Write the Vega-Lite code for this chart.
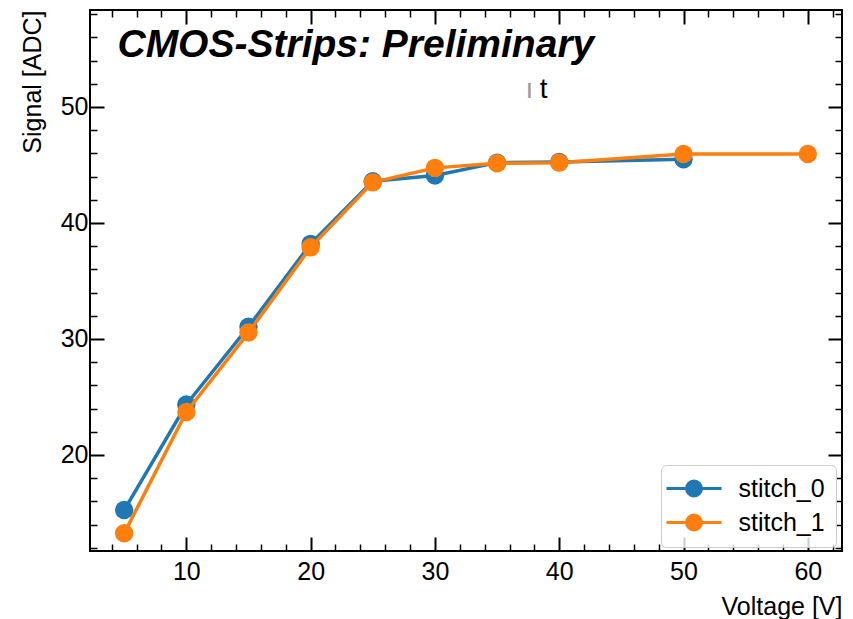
{
  "$schema": "https://vega.github.io/schema/vega-lite/v6.json",
  "width": 752,
  "height": 541,
  "autosize": "none",
  "padding": {"left": 90, "top": 10, "right": 11, "bottom": 68},
  "background": "white",
  "config": {
    "font": "Liberation Sans",
    "view": {"stroke": "black", "strokeWidth": 2},
    "axis": {
      "domain": false,
      "grid": false,
      "ticks": true,
      "labelFont": "Liberation Sans",
      "labelFontSize": 25,
      "labelColor": "black",
      "titleFont": "Liberation Sans",
      "titleFontSize": 25,
      "titleFontWeight": "normal",
      "titleColor": "black",
      "tickColor": "black",
      "tickSize": {"condition": {"test": "datum.value % 10 === 0", "value": -14}, "value": -7},
      "tickWidth": {"condition": {"test": "datum.value % 10 === 0", "value": 2}, "value": 1.5}
    },
    "legend": {
      "title": null,
      "orient": "none",
      "legendX": 571,
      "legendY": 455,
      "padding": 11,
      "fillColor": "rgba(255,255,255,0.8)",
      "strokeColor": "#cccccc",
      "cornerRadius": 5,
      "symbolType": "M-3.06,0L3.06,0M0.83,0A0.83,0.83,0,1,1,-0.83,0A0.83,0.83,0,1,1,0.83,0Z",
      "symbolSize": 324,
      "symbolStrokeWidth": 3,
      "symbolOffset": 9.5,
      "labelOffset": 32,
      "labelFont": "Liberation Sans",
      "labelFontSize": 25,
      "labelColor": "black",
      "rowPadding": 7
    }
  },
  "datasets": {
    "series": [
      {"voltage": 5, "signal": 15.25, "stitch": "stitch_0"},
      {"voltage": 10, "signal": 24.35, "stitch": "stitch_0"},
      {"voltage": 15, "signal": 31.05, "stitch": "stitch_0"},
      {"voltage": 20, "signal": 38.2, "stitch": "stitch_0"},
      {"voltage": 25, "signal": 43.6, "stitch": "stitch_0"},
      {"voltage": 30, "signal": 44.1, "stitch": "stitch_0"},
      {"voltage": 35, "signal": 45.2, "stitch": "stitch_0"},
      {"voltage": 40, "signal": 45.25, "stitch": "stitch_0"},
      {"voltage": 50, "signal": 45.5, "stitch": "stitch_0"},
      {"voltage": 5, "signal": 13.25, "stitch": "stitch_1"},
      {"voltage": 10, "signal": 23.7, "stitch": "stitch_1"},
      {"voltage": 15, "signal": 30.55, "stitch": "stitch_1"},
      {"voltage": 20, "signal": 37.9, "stitch": "stitch_1"},
      {"voltage": 25, "signal": 43.5, "stitch": "stitch_1"},
      {"voltage": 30, "signal": 44.75, "stitch": "stitch_1"},
      {"voltage": 35, "signal": 45.15, "stitch": "stitch_1"},
      {"voltage": 40, "signal": 45.2, "stitch": "stitch_1"},
      {"voltage": 50, "signal": 45.95, "stitch": "stitch_1"},
      {"voltage": 60, "signal": 45.95, "stitch": "stitch_1"}
    ]
  },
  "resolve": {"axis": {"x": "independent", "y": "independent"}},
  "layer": [
    {
      "data": {"name": "series"},
      "transform": [{"filter": "datum.stitch === 'stitch_0'"}],
      "mark": {"type": "line", "strokeWidth": 3.5},
      "encoding": {
        "x": {
          "field": "voltage", "type": "quantitative",
          "scale": {"domain": [2.25, 62.75], "nice": false, "zero": false},
          "axis": {
            "orient": "bottom",
            "title": "Voltage [V]",
            "titleAnchor": "end",
            "titlePadding": 10,
            "values": [4, 6, 8, 10, 12, 14, 16, 18, 20, 22, 24, 26, 28, 30, 32, 34, 36, 38, 40, 42, 44, 46, 48, 50, 52, 54, 56, 58, 60, 62],
            "labelExpr": "datum.value % 10 === 0 ? datum.label : ''",
            "labelPadding": 22
          }
        },
        "y": {
          "field": "signal", "type": "quantitative",
          "scale": {"domain": [11.72, 58.36], "nice": false, "zero": false},
          "axis": {
            "orient": "left",
            "title": "Signal [ADC]",
            "titleAnchor": "end",
            "titlePadding": 15,
            "values": [12, 14, 16, 18, 20, 22, 24, 26, 28, 30, 32, 34, 36, 38, 40, 42, 44, 46, 48, 50, 52, 54, 56, 58],
            "labelExpr": "datum.value % 10 === 0 ? datum.label : ''",
            "labelPadding": 16
          }
        },
        "color": {
          "field": "stitch", "type": "nominal",
          "scale": {"domain": ["stitch_0", "stitch_1"], "range": ["#1f77b4", "#ff7f0e"]}
        }
      }
    },
    {
      "data": {"name": "series"},
      "transform": [{"filter": "datum.stitch === 'stitch_0'"}],
      "mark": {"type": "point", "filled": true, "opacity": 1, "size": 340, "shape": "circle"},
      "encoding": {
        "x": {"field": "voltage", "type": "quantitative", "scale": {"domain": [2.25, 62.75], "nice": false, "zero": false}, "axis": null},
        "y": {"field": "signal", "type": "quantitative", "scale": {"domain": [11.72, 58.36], "nice": false, "zero": false}, "axis": null},
        "color": {"field": "stitch", "type": "nominal", "scale": {"domain": ["stitch_0", "stitch_1"], "range": ["#1f77b4", "#ff7f0e"]}}
      }
    },
    {
      "data": {"name": "series"},
      "transform": [{"filter": "datum.stitch === 'stitch_1'"}],
      "mark": {"type": "line", "strokeWidth": 3.5},
      "encoding": {
        "x": {
          "field": "voltage", "type": "quantitative",
          "scale": {"domain": [2.25, 62.75], "nice": false, "zero": false},
          "axis": {
            "orient": "top",
            "title": null,
            "labels": false,
            "values": [4, 6, 8, 10, 12, 14, 16, 18, 20, 22, 24, 26, 28, 30, 32, 34, 36, 38, 40, 42, 44, 46, 48, 50, 52, 54, 56, 58, 60, 62]
          }
        },
        "y": {
          "field": "signal", "type": "quantitative",
          "scale": {"domain": [11.72, 58.36], "nice": false, "zero": false},
          "axis": {
            "orient": "right",
            "title": null,
            "labels": false,
            "values": [12, 14, 16, 18, 20, 22, 24, 26, 28, 30, 32, 34, 36, 38, 40, 42, 44, 46, 48, 50, 52, 54, 56, 58]
          }
        },
        "color": {"field": "stitch", "type": "nominal", "scale": {"domain": ["stitch_0", "stitch_1"], "range": ["#1f77b4", "#ff7f0e"]}}
      }
    },
    {
      "data": {"name": "series"},
      "transform": [{"filter": "datum.stitch === 'stitch_1'"}],
      "mark": {"type": "point", "filled": true, "opacity": 1, "size": 340, "shape": "circle"},
      "encoding": {
        "x": {"field": "voltage", "type": "quantitative", "scale": {"domain": [2.25, 62.75], "nice": false, "zero": false}, "axis": null},
        "y": {"field": "signal", "type": "quantitative", "scale": {"domain": [11.72, 58.36], "nice": false, "zero": false}, "axis": null},
        "color": {
          "field": "stitch", "type": "nominal",
          "scale": {"domain": ["stitch_0", "stitch_1"], "range": ["#1f77b4", "#ff7f0e"]},
          "legend": {
            "encode": {
              "symbols": {
                "update": {
                  "fill": {"scale": "color", "field": "value"},
                  "stroke": {"scale": "color", "field": "value"},
                  "strokeWidth": {"value": 3},
                  "opacity": {"value": 1}
                }
              }
            }
          }
        }
      }
    },
    {
      "data": {"values": [{"voltage": 4.46, "signal": 54.31, "label": "CMOS-Strips: Preliminary"}]},
      "mark": {"type": "text", "align": "left", "baseline": "alphabetic", "font": "Liberation Sans", "fontSize": 39, "fontWeight": "bold", "fontStyle": "italic", "color": "black"},
      "encoding": {
        "x": {"field": "voltage", "type": "quantitative", "scale": {"domain": [2.25, 62.75], "nice": false, "zero": false}, "axis": null},
        "y": {"field": "signal", "type": "quantitative", "scale": {"domain": [11.72, 58.36], "nice": false, "zero": false}, "axis": null},
        "text": {"field": "label"}
      }
    },
    {
      "data": {"values": [{"voltage": 37.6, "signal": 50.78, "label": "ı"}]},
      "mark": {"type": "text", "align": "center", "baseline": "alphabetic", "font": "Liberation Sans", "fontSize": 28, "color": "#9a9a9a"},
      "encoding": {
        "x": {"field": "voltage", "type": "quantitative", "scale": {"domain": [2.25, 62.75], "nice": false, "zero": false}, "axis": null},
        "y": {"field": "signal", "type": "quantitative", "scale": {"domain": [11.72, 58.36], "nice": false, "zero": false}, "axis": null},
        "text": {"field": "label"}
      }
    },
    {
      "data": {"values": [{"voltage": 38.75, "signal": 50.78, "label": "t"}]},
      "mark": {"type": "text", "align": "center", "baseline": "alphabetic", "font": "Liberation Sans", "fontSize": 28, "color": "black"},
      "encoding": {
        "x": {"field": "voltage", "type": "quantitative", "scale": {"domain": [2.25, 62.75], "nice": false, "zero": false}, "axis": null},
        "y": {"field": "signal", "type": "quantitative", "scale": {"domain": [11.72, 58.36], "nice": false, "zero": false}, "axis": null},
        "text": {"field": "label"}
      }
    }
  ]
}
